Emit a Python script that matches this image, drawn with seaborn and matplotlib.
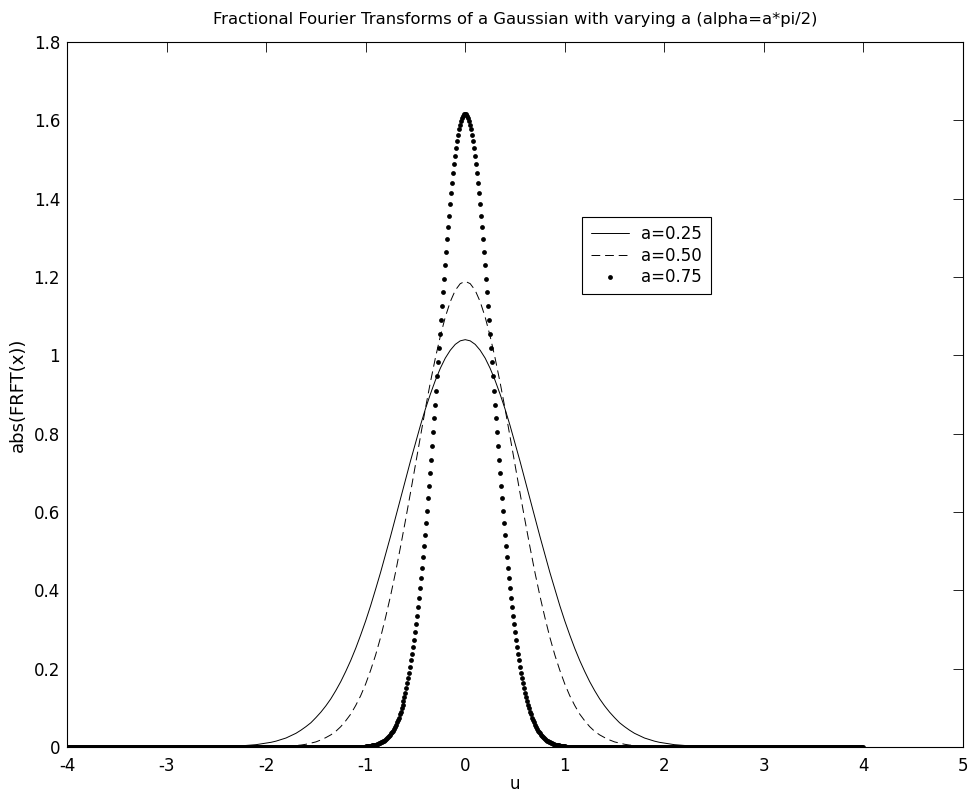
import numpy as np
import pandas as pd
import matplotlib
matplotlib.use('Agg')
import matplotlib.pyplot as plt
import matplotlib.ticker as mticker
import seaborn as sns

# values for u >= 0 (curves are symmetric about u = 0)
# solid / dashed curves sampled every 0.05 in u, dotted curve every 0.01
LINE_STEP = 0.05
DOT_STEP = 0.01
U_MAX = 4.0

a025_half = [1.040, 1.037, 1.028, 1.013, 0.993, 0.967, 0.936, 0.901, 0.863, 0.821,
             0.776, 0.730, 0.682, 0.634, 0.586, 0.538, 0.492, 0.446, 0.403, 0.361,
             0.322, 0.286, 0.252, 0.221, 0.193, 0.167, 0.144, 0.123, 0.105, 0.089,
             0.075, 0.062, 0.052, 0.043, 0.035, 0.029, 0.023, 0.019, 0.015, 0.012,
             0.010, 0.008, 0.006, 0.005, 0.004, 0.003, 0.002, 0.002, 0.001, 0.001,
             0.001]

a050_half = [1.189, 1.183, 1.166, 1.137, 1.098, 1.049, 0.993, 0.931, 0.864, 0.793,
             0.721, 0.649, 0.579, 0.511, 0.446, 0.386, 0.331, 0.280, 0.235, 0.196,
             0.161, 0.131, 0.106, 0.084, 0.067, 0.052, 0.040, 0.031, 0.024, 0.018,
             0.013, 0.010, 0.007, 0.005, 0.004, 0.003, 0.002, 0.001, 0.001, 0.001,
             0.000]

a075_half = [1.616, 1.615, 1.612, 1.607, 1.599, 1.589, 1.577, 1.563, 1.547, 1.530,
             1.510, 1.488, 1.465, 1.440, 1.414, 1.386, 1.357, 1.327, 1.296, 1.263,
             1.230, 1.196, 1.162, 1.126, 1.091, 1.055, 1.019, 0.983, 0.946, 0.910,
             0.874, 0.839, 0.803, 0.768, 0.734, 0.700, 0.667, 0.635, 0.603, 0.572,
             0.542, 0.513, 0.485, 0.457, 0.431, 0.406, 0.381, 0.358, 0.335, 0.314,
             0.293, 0.274, 0.255, 0.237, 0.221, 0.205, 0.190, 0.176, 0.163, 0.150,
             0.138, 0.127, 0.117, 0.108, 0.099, 0.090, 0.083, 0.075, 0.069, 0.063,
             0.057, 0.052, 0.047, 0.042, 0.038, 0.035, 0.031, 0.028, 0.025, 0.023,
             0.020, 0.018, 0.016, 0.015, 0.013, 0.012, 0.010, 0.009, 0.008, 0.007,
             0.006, 0.006, 0.005, 0.004, 0.004, 0.003, 0.003, 0.003, 0.002, 0.002,
             0.002]

labels = ['a=0.25', 'a=0.50', 'a=0.75']
x_ticks = [-4, -3, -2, -1, 0, 1, 2, 3, 4, 5]
y_ticks = [0, 0.2, 0.4, 0.6, 0.8, 1.0, 1.2, 1.4, 1.6, 1.8]


def full_curve(y_half, step):
    # pad the tail with the zero level seen in the plot, then mirror to u < 0
    n = int(round(U_MAX / step)) + 1
    yh = np.array(y_half + [0.0] * (n - len(y_half)))
    uh = np.round(np.arange(n) * step, 2)
    u = np.concatenate([-uh[:0:-1], uh])
    y = np.concatenate([yh[:0:-1], yh])
    return pd.DataFrame({'u': u, 'y': y})


df25 = full_curve(a025_half, LINE_STEP)
df50 = full_curve(a050_half, LINE_STEP)
df75 = full_curve(a075_half, DOT_STEP)

sns.set_theme(style='white')
plt.rcParams.update({
    'font.family': ['DejaVu Sans'],
    'font.size': 12,
    'axes.unicode_minus': False,
    'axes.edgecolor': 'black',
    'axes.linewidth': 0.8,
    'xtick.direction': 'in',
    'ytick.direction': 'in',
    'xtick.color': 'black',
    'ytick.color': 'black',
    'text.color': 'black',
    'axes.labelcolor': 'black',
})

fig, ax = plt.subplots(figsize=(9.71, 7.96), dpi=100)
fig.subplots_adjust(left=67/971, right=963/971, bottom=1 - 747/796, top=1 - 42/796)

sns.lineplot(data=df25, x='u', y='y', ax=ax, color='black', lw=0.7,
             estimator=None, label=labels[0])
sns.lineplot(data=df50, x='u', y='y', ax=ax, color='black', lw=0.7,
             linestyle=(0, (9, 5)), estimator=None, label=labels[1])
sns.scatterplot(data=df75, x='u', y='y', ax=ax, color='black', s=12,
                marker='o', linewidth=0, label=labels[2])

ax.set_xlim(-4, 5)
ax.set_ylim(0, 1.8)
ax.set_xticks(x_ticks)
ax.set_yticks(y_ticks)
ax.yaxis.set_major_formatter(mticker.FuncFormatter(lambda v, _: f'{v:g}'))
ax.tick_params(axis='both', which='major', length=7, width=0.6, labelsize=12,
               top=True, right=True)
ax.tick_params(axis='x', pad=7)
ax.tick_params(axis='y', pad=5)
for s in ax.spines.values():
    s.set_visible(True)
    s.set_color('black')

ax.set_xlabel('u', fontsize=12, labelpad=0)
ax.set_ylabel('abs(FRFT(x))', fontsize=13, labelpad=5)
ax.set_title('Fractional Fourier Transforms of a Gaussian with varying a (alpha=a*pi/2)',
             fontsize=11.8, pad=13)

leg = ax.legend(loc='upper left', bbox_to_anchor=(0.575, 0.752), borderaxespad=0,
                frameon=True, fancybox=False, edgecolor='black', framealpha=1,
                handlelength=2.3, handletextpad=0.75, labelspacing=0.2,
                borderpad=0.5, fontsize=12, scatterpoints=1)
leg.get_frame().set_linewidth(0.8)

plt.savefig('out.png', dpi=100)
plt.close()
